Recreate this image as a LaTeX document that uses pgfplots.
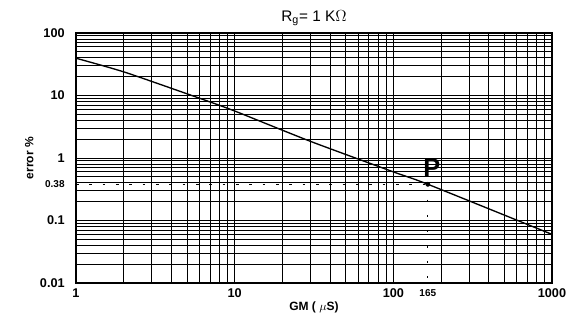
\documentclass[border=0pt]{standalone}
\usepackage{pgfplots}
\pgfplotsset{compat=1.18}
\usepackage{fontspec}
\setmainfont{Liberation Sans}
\begin{document}
\begin{tikzpicture}
\begin{axis}[
  name=ax,
  scale only axis,
  width=357pt, height=187.5pt,
  xmode=log, ymode=log,
  xmin=1, xmax=1000, ymin=0.01, ymax=100,
  log basis x=10, log basis y=10,
  xtick={1,10,100,1000},
  xticklabels={1,10,100,1000},
  ytick={0.01,0.1,1,10,100},
  yticklabels={0.01,0.1,1,10,100},
  minor xtick={2,3,4,5,6,7,8,9,20,30,40,50,60,70,80,90,200,300,400,500,600,700,800,900},
  minor ytick={0.02,0.03,0.04,0.05,0.06,0.07,0.08,0.09,0.2,0.3,0.4,0.5,0.6,0.7,0.8,0.9,2,3,4,5,6,7,8,9,20,30,40,50,60,70,80,90},
  extra x ticks={165},
  extra x tick labels={165},
  extra y ticks={0.38},
  extra y tick labels={0.38},
  extra tick style={grid=none, tick label style={font=\bfseries\fontsize{7.5}{8}\selectfont}},
  grid=both,
  major grid style={black, line width=0.6pt},
  minor grid style={black, line width=0.6pt},
  major tick length=0pt, minor tick length=0pt,
  axis line style={black, line width=1pt},
  tick label style={font=\bfseries\fontsize{9.5}{10}\selectfont},
  /pgf/number format/assume math mode=true,
  yticklabel style={xshift=-5pt},
  xticklabel style={yshift=-1pt},
  xlabel={\bfseries GM ( $\mu$S)},
  ylabel={\bfseries error \%},
  xlabel style={font=\fontsize{9}{10}\selectfont, yshift=4pt},
  ylabel style={font=\fontsize{9}{10}\selectfont, yshift=-2pt},
  title={R\textsubscript{g}= 1 K$\Omega$},
  title style={font=\fontsize{11.5}{12}\selectfont, yshift=-4pt},
]
\addplot[black, line width=1pt, smooth, tension=0.4] coordinates {
  (1,39.5) (2.04,23.5) (6.04,9.0) (10,5.65) (30,1.85) (100,0.6) (165,0.38) (1000,0.06)
};
\addplot[black, line width=0.8pt, dash pattern=on 2pt off 8pt] coordinates {(1,0.38) (165,0.38)};
\addplot[black, line width=0.8pt, dash pattern=on 1.5pt off 10pt] coordinates {(165,0.38) (165,0.01)};
\addplot[only marks, mark=*, mark size=1.6pt, black] coordinates {(165,0.38)};
\node[font=\bfseries\fontsize{19}{20}\selectfont, anchor=south] at (axis cs:175,0.43) {P};
\end{axis}
\pgfresetboundingbox
\useasboundingbox ([shift={(-57pt,-35.25pt)}]ax.south west) rectangle ([shift={(19.5pt,24.75pt)}]ax.north east);
\end{tikzpicture}
\end{document}
